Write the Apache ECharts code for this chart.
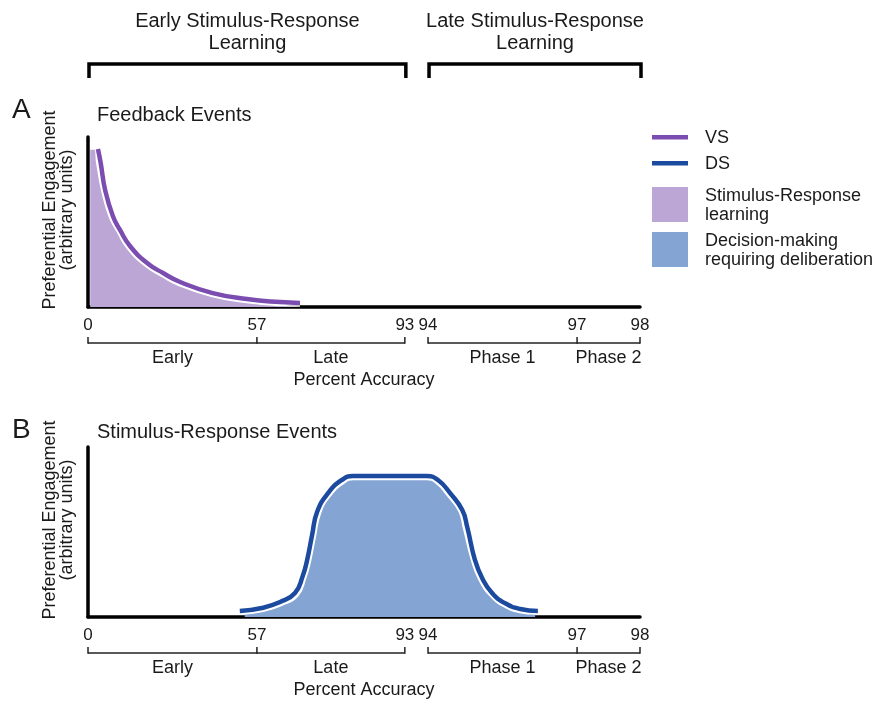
<!DOCTYPE html>
<html>
<head>
<meta charset="utf-8">
<script src="https://cdn.jsdelivr.net/npm/echarts@6/dist/echarts.min.js"></script>
<style>
  html, body { margin: 0; padding: 0; background: #fff; }
  #chart { width: 881px; height: 704px; }
</style>
</head>
<body>
<div id="chart"></div>
<script>
// x axis is a stretched scale (0..100 along the axis), labelled with percent accuracy
const tickPos = [0, 30.6, 57.4, 61.6, 88.6, 100];
const tickLabels = ["0", "57", "93", "94", "97", "98"];
const phaseLabels = ["Early", "Late", "Phase 1", "Phase 2"];
const phaseSpans = [[0, 1], [1, 2], [3, 4], [4, 5]];
const bracketGroups = [[0, 1, 2], [3, 4, 5]];
const stageLabels = ["Early Stimulus-Response\nLearning", "Late Stimulus-Response\nLearning"];
const stageSpans = [[0, 2], [3, 5]];

// A: feedback events, VS engagement
const vsLine = [[1.8, 92.9], [2.3, 84.7], [3.1, 68.8], [4.5, 53.5], [5.8, 45.3], [7.6, 35.9], [10.7, 25.9],
  [13.6, 20.0], [16.7, 14.7], [22.6, 8.2], [28.8, 4.7], [34.8, 2.9], [38.4, 2.4]];
const srFill = [[0.4, 92.9], [1.2, 92.9], [1.6, 84.7], [2.5, 68.4], [3.9, 52.8], [5.3, 44.3], [7.1, 34.6],
  [10.3, 24.3], [13.3, 18.2], [16.4, 12.8], [22.5, 6.2], [28.7, 2.7], [34.8, 0.9], [38.4, 0.6]];

// B: stimulus-response events, DS engagement
const dsLine = [[27.5, 3.5], [31.5, 5.3], [34.8, 8.8], [37.5, 14.1], [38.9, 24.1], [39.7, 33.5], [40.6, 48.2],
  [41.5, 61.8], [43.5, 72.9], [46.0, 80.6], [48.0, 82.9], [54.7, 82.9], [61.4, 82.9], [63.4, 80.6], [65.6, 72.9],
  [67.8, 62.9], [68.7, 52.9], [70.1, 33.5], [71.4, 22.9], [73.2, 14.1], [75.5, 8.2], [78.3, 4.7], [81.5, 3.5]];
const dmFill = [[28.4, 1.8], [31.5, 3.2], [35.0, 6.8], [38.0, 12.4], [39.5, 23.5], [40.3, 32.9], [41.2, 47.6],
  [42.1, 60.9], [43.8, 70.9], [46.3, 78.6], [48.1, 80.9], [54.7, 80.9], [61.3, 80.9], [63.1, 78.6], [65.1, 71.4],
  [67.2, 62.2], [68.0, 52.6], [69.5, 33.2], [70.8, 22.1], [72.8, 12.6], [75.3, 6.2], [78.2, 2.7], [81.0, 1.8]];

const FONT = "Liberation Sans, Arial, sans-serif";
const TXT = "#1a1a1a";
const VS_COLOR = "#7b4db0";
const SR_COLOR = "#bba6d6";
const DS_COLOR = "#1b4a9f";
const DM_COLOR = "#84a5d3";

const chart = echarts.init(document.getElementById("chart"));

function xAxisFor(i) {
  return {
    type: "value",
    gridIndex: i,
    min: 0,
    max: 100,
    name: "Percent Accuracy",
    nameLocation: "middle",
    nameGap: 64,
    nameTextStyle: { fontFamily: FONT, fontSize: 18, color: TXT },
    axisLine: { lineStyle: { color: "#000", width: 3.5 } },
    axisTick: { show: false },
    splitLine: { show: false },
    axisLabel: {
      customValues: tickPos,
      margin: 10,
      fontFamily: FONT,
      fontSize: 17,
      color: TXT,
      formatter: (v) => {
        const k = tickPos.findIndex((p) => Math.abs(p - v) < 0.01);
        return k >= 0 ? tickLabels[k] : "";
      },
    },
  };
}

function yAxisFor(i) {
  return {
    type: "value",
    gridIndex: i,
    min: 0,
    max: 100,
    name: "Preferential Engagement\n(arbitrary units)",
    nameLocation: "middle",
    nameGap: 12,
    nameTextStyle: { fontFamily: FONT, fontSize: 18, color: TXT, lineHeight: 17, padding: [0, 0, 0, 24] },
    axisLine: { show: true, lineStyle: { color: "#000", width: 3.5 } },
    axisTick: { show: false },
    axisLabel: { show: false },
    splitLine: { show: false },
  };
}

const fillSeries = (data, i, color) => ({
  type: "line",
  xAxisIndex: i,
  yAxisIndex: i,
  data,
  smooth: 0.5,
  showSymbol: false,
  symbol: "none",
  lineStyle: { color: "#fff", width: 1.5 },
  areaStyle: { color, opacity: 1 },
  silent: true,
  z: 2,
});

const lineSeries = (data, i, color) => ({
  type: "line",
  xAxisIndex: i,
  yAxisIndex: i,
  data,
  smooth: 0.5,
  showSymbol: false,
  symbol: "none",
  lineStyle: { color, width: 4.5, cap: "butt" },
  silent: true,
  z: 3,
});

chart.setOption({
  animation: false,
  backgroundColor: "#fff",
  grid: [
    { left: 88, top: 137, width: 552, height: 170, outerBoundsMode: "none" },
    { left: 88, top: 447, width: 552, height: 170, outerBoundsMode: "none" },
  ],
  xAxis: [xAxisFor(0), xAxisFor(1)],
  yAxis: [yAxisFor(0), yAxisFor(1)],
  series: [
    fillSeries(srFill, 0, SR_COLOR),
    lineSeries(vsLine, 0, VS_COLOR),
    fillSeries(dmFill, 1, DM_COLOR),
    lineSeries(dsLine, 1, DS_COLOR),
  ],
});

// annotations: brackets, headers, panel titles, legend
const els = [];
const text = (str, x, y, size, extra) =>
  els.push({
    type: "text",
    silent: true,
    style: Object.assign({ text: str, x, y, fontFamily: FONT, fontSize: size, fill: TXT,
      textAlign: "left", textVerticalAlign: "middle" }, extra || {}),
  });
const poly = (points, width, color) =>
  els.push({ type: "polyline", silent: true, shape: { points },
    style: { stroke: color, lineWidth: width, fill: null } });

const tx = tickPos.map((p) => chart.convertToPixel({ xAxisIndex: 0 }, p));

// stage brackets on top
stageSpans.forEach(([a, b], k) => {
  poly([[tx[a] + 1, 78], [tx[a] + 1, 64], [tx[b] + 1, 64], [tx[b] + 1, 78]], 3.5, "#000");
  text(stageLabels[k], (tx[a] + tx[b]) / 2 + 1, 32, 20, { textAlign: "center", lineHeight: 22 });
});

[0, 1].forEach((g) => {
  const base = chart.convertToPixel({ yAxisIndex: g }, 0);
  const ly = base + 36;
  bracketGroups.forEach((grp) => {
    poly([[tx[grp[0]], ly], [tx[grp[grp.length - 1]], ly]], 1.5, "#222");
    grp.forEach((k) => poly([[tx[k], ly + 0.75], [tx[k], ly - 6]], 1.5, "#222"));
  });
  phaseSpans.forEach(([a, b], k) => {
    text(phaseLabels[k], (tx[a] + tx[b]) / 2, base + 51, 18, { textAlign: "center" });
  });
});

text("A", 12, 110, 28);
text("Feedback Events", 97, 115, 20);
text("B", 12, 430, 28);
text("Stimulus-Response Events", 97, 432, 20);

// legend
els.push({ type: "rect", silent: true, shape: { x: 652, y: 135, width: 36, height: 4.5 }, style: { fill: VS_COLOR } });
els.push({ type: "rect", silent: true, shape: { x: 652, y: 161, width: 36, height: 4.5 }, style: { fill: DS_COLOR } });
els.push({ type: "rect", silent: true, shape: { x: 652, y: 187, width: 36, height: 35 }, style: { fill: SR_COLOR } });
els.push({ type: "rect", silent: true, shape: { x: 652, y: 232, width: 36, height: 35 }, style: { fill: DM_COLOR } });
text("VS", 705, 138, 18);
text("DS", 705, 164, 18);
text("Stimulus-Response\nlearning", 705, 206, 18, { lineHeight: 19 });
text("Decision-making\nrequiring deliberation", 705, 251, 18, { lineHeight: 19 });

chart.setOption({ graphic: { elements: els } });
</script>
</body>
</html>
